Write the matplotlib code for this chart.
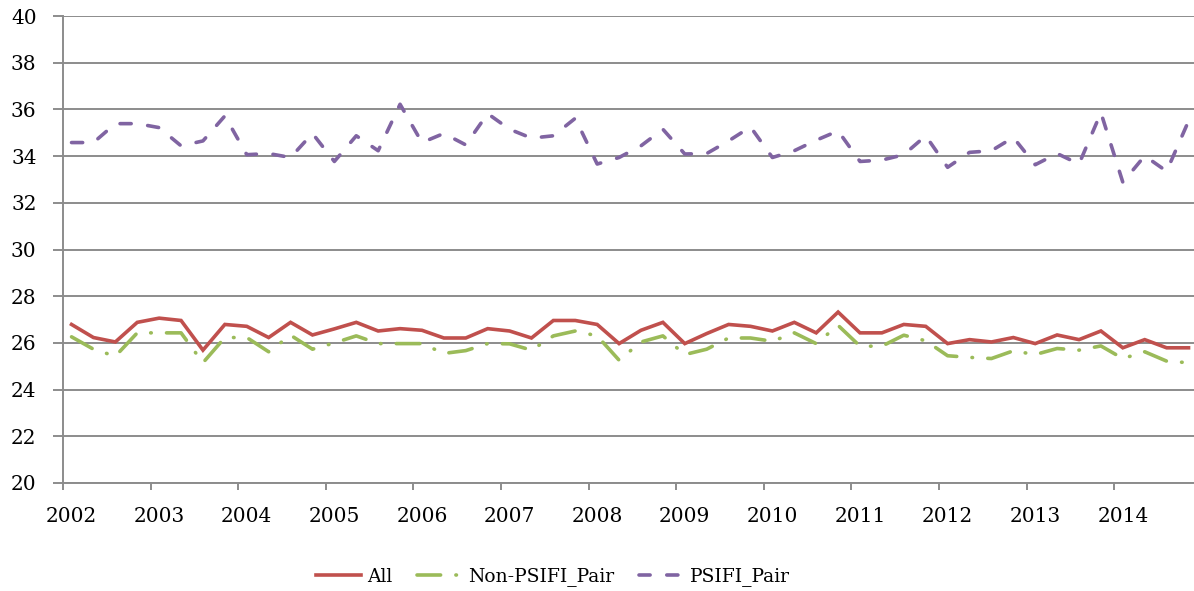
import matplotlib
matplotlib.use("Agg")
import matplotlib.pyplot as plt
import numpy as np

years = list(range(2002, 2015))
quarters_per_year = 4

all_pairs = [
    26.79, 26.23, 26.04, 26.88, 27.06, 26.96, 25.69, 26.79, 26.71, 26.23,
    26.88, 26.34, 26.60, 26.88, 26.51, 26.61, 26.54, 26.21, 26.21, 26.61,
    26.51, 26.21, 26.96, 26.96, 26.79, 25.97, 26.54, 26.88, 25.97, 26.40,
    26.79, 26.71, 26.51, 26.88, 26.43, 27.32, 26.43, 26.43, 26.79, 26.71,
    25.97, 26.14, 26.04, 26.23, 25.97, 26.34, 26.14, 26.51, 25.79, 26.14,
    25.79, 25.79,
]
non_psifi_pair = [
    26.26, 25.73, 25.43, 26.43, 26.43, 26.43, 25.15, 26.23, 26.23, 25.62,
    26.33, 25.73, 26.00, 26.30, 25.97, 25.97, 25.97, 25.55, 25.67, 25.97,
    25.96, 25.69, 26.30, 26.51, 26.30, 25.26, 26.04, 26.30, 25.50, 25.73,
    26.21, 26.21, 26.07, 26.43, 25.97, 26.75, 25.86, 25.86, 26.33, 26.09,
    25.45, 25.38, 25.33, 25.66, 25.50, 25.76, 25.69, 25.87, 25.33, 25.62,
    25.22, 25.15,
]
psifi_pair = [
    34.58, 34.58, 35.39, 35.39, 35.22, 34.44, 34.65, 35.72, 34.06, 34.11,
    33.94, 34.97, 33.77, 34.87, 34.23, 36.22, 34.58, 34.97, 34.48, 35.82,
    35.15, 34.77, 34.87, 35.62, 33.66, 33.94, 34.44, 35.15, 34.09, 34.11,
    34.65, 35.25, 33.94, 34.23, 34.68, 35.08, 33.77, 33.83, 34.06, 34.87,
    33.52, 34.16, 34.23, 34.80, 33.63, 34.11, 33.66, 35.86, 32.88, 34.01,
    33.35, 35.50,
]

colors = {"All": "#C0504D", "Non-PSIFI_Pair": "#9BBB59", "PSIFI_Pair": "#8064A2"}
grid_gray = "#8C8C8C"

plt.rcParams["font.family"] = ["DejaVu Serif"]
plt.rcParams["lines.scale_dashes"] = False

fig = plt.figure(figsize=(11.94, 5.91), dpi=100)
ax = fig.add_axes([63 / 1194, 1 - 483 / 591, 1 - 63 / 1194, (483 - 16) / 591])

x = np.arange(len(all_pairs))
lw = 2.6

ax.plot(x, all_pairs, color=colors["All"], lw=lw, solid_joinstyle="miter",
        label="All", zorder=4)
ax.plot(x, non_psifi_pair, color=colors["Non-PSIFI_Pair"], lw=lw,
        dashes=(17, 11, 0.4, 11), dash_capstyle="round", label="Non-PSIFI_Pair", zorder=3)
ax.plot(x, psifi_pair, color=colors["PSIFI_Pair"], lw=lw,
        dashes=(8, 12), dash_capstyle="round", label="PSIFI_Pair", zorder=3)

ax.set_ylim(20, 40)
ax.set_yticks(np.arange(20, 41, 2))
ax.set_xlim(-0.39, 51.25)

# year labels on the first quarter, tick marks on the year boundaries
ax.set_xticks(np.arange(len(years)) * quarters_per_year)
ax.set_xticklabels([str(y) for y in years])
ax.set_xticks(np.arange(len(years)) * quarters_per_year - 0.39, minor=True)
ax.tick_params(axis="x", which="major", length=0, pad=17, labelsize=14.5)
ax.tick_params(axis="x", which="minor", length=5, width=1.4, color=grid_gray, direction="out")
ax.tick_params(axis="y", which="major", length=7, width=1.4, color=grid_gray,
               direction="out", pad=12, labelsize=14.5)

ax.grid(axis="y", color=grid_gray, lw=1.4, zorder=0)
ax.set_axisbelow(True)
for side in ("top", "right"):
    ax.spines[side].set_visible(False)
for side in ("left", "bottom"):
    ax.spines[side].set_color(grid_gray)
    ax.spines[side].set_linewidth(1.4)

fig.legend(loc="center", bbox_to_anchor=(553 / 1194, 1 - 577 / 591), ncol=3,
           frameon=False, fontsize=13.5, handlelength=2.4, columnspacing=1.3,
           handletextpad=0.35)

fig.savefig("out.png", dpi=100)
